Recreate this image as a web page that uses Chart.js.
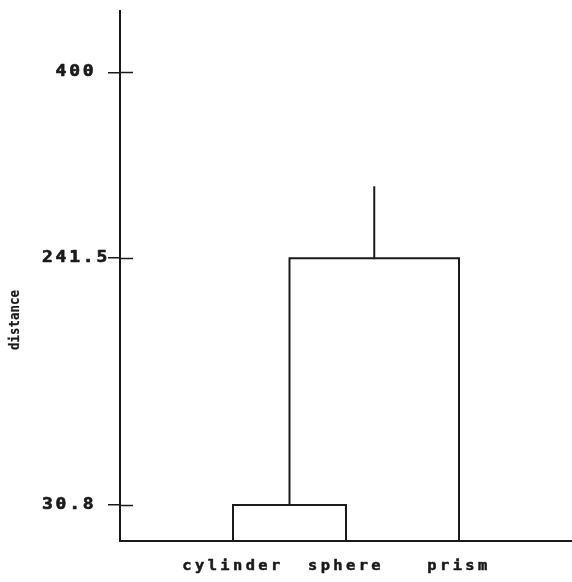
<!DOCTYPE html>
<html>
<head>
<meta charset="utf-8">
<script src="https://cdn.jsdelivr.net/npm/chart.js@4.4.1/dist/chart.umd.min.js"></script>
<style>
  html, body { margin: 0; padding: 0; background: #fff; }
  #wrap { width: 572px; height: 582px; position: relative; }
</style>
</head>
<body>
<div id="wrap"><canvas id="c"></canvas></div>
<script>
// ---- data ----
const categories = ['cylinder', 'sphere', 'prism'];   // leaves, left to right
const leafPositions = [1, 2, 3];                       // x index of each leaf
const mergeHeights = [30.8, 241.5];                    // join distances
const rootTop = 302;                                   // top of root stem
const tickValues = [30.8, 241.5, 400];
const tickLabels = ['30.8 ', '241.5', '400 '];
const axisTitle = 'distance';
const yMax = 452.5;
const xMin = 0, xMax = 4;

// ---- dendrogram segments built from the data ----
const c1 = (leafPositions[0] + leafPositions[1]) / 2;
const c2 = (c1 + leafPositions[2]) / 2;
const seg1 = [
  {x: leafPositions[0], y: 0}, {x: leafPositions[0], y: mergeHeights[0]},
  {x: leafPositions[1], y: mergeHeights[0]}, {x: leafPositions[1], y: 0}
];
const seg2 = [
  {x: c1, y: mergeHeights[0]}, {x: c1, y: mergeHeights[1]},
  {x: leafPositions[2], y: mergeHeights[1]}, {x: leafPositions[2], y: 0}
];
const seg3 = [
  {x: c2, y: mergeHeights[1]}, {x: c2, y: rootTop}
];

const INK = '#1a1a1a';
const mono = '"DejaVu Sans Mono", "Liberation Mono", monospace';

// plotter-like lettering: widen glyphs and space them out, keyed by font size
const spacingPlugin = {
  id: 'spacing',
  afterInit(chart) {
    const ctx = chart.ctx;
    const of = ctx.fillText, ost = ctx.strokeText, om = ctx.measureText;
    const cfg = () => {
      const m = /(\d+(?:\.\d+)?)px/.exec(ctx.font);
      const s = m ? parseFloat(m[1]) : 12;
      if (s === 15) return { sx: 1.2, sp: 2.3, lw: 0.6 };
      if (s === 14) return { sx: 1.1, sp: 3.1, lw: 0.5 };
      if (s === 13.5) return { sx: 0.92, sp: 0, lw: 0.2 };
      return { sx: 1, sp: 0, lw: 0 };
    };
    ctx.fillText = function(t, x, y) {
      const c = cfg();
      this.save();
      this.letterSpacing = c.sp + 'px';
      this.translate(x, y);
      this.scale(c.sx, 1);
      of.call(this, t, 0, 0);
      if (c.lw > 0) {
        this.strokeStyle = this.fillStyle;
        this.lineWidth = c.lw;
        this.lineJoin = 'round';
        ost.call(this, t, 0, 0);
      }
      this.restore();
    };
    ctx.measureText = function(t) {
      const c = cfg();
      const prev = this.letterSpacing;
      this.letterSpacing = c.sp + 'px';
      const m = om.call(this, t);
      this.letterSpacing = prev;
      return {
        width: m.width * c.sx,
        actualBoundingBoxAscent: m.actualBoundingBoxAscent,
        actualBoundingBoxDescent: m.actualBoundingBoxDescent,
        actualBoundingBoxLeft: m.actualBoundingBoxLeft * c.sx,
        actualBoundingBoxRight: m.actualBoundingBoxRight * c.sx
      };
    };
  }
};

const innerTicks = {
  id: 'innerTicks',
  afterDraw(chart) {
    const ctx = chart.ctx, ys = chart.scales.y, area = chart.chartArea;
    ctx.save();
    ctx.strokeStyle = INK;
    ctx.lineWidth = 1.5;
    ys.ticks.forEach(t => {
      const py = Math.round(ys.getPixelForValue(t.value)) + 0.5;
      ctx.beginPath();
      ctx.moveTo(area.left, py);
      ctx.lineTo(area.left + 13, py);
      ctx.stroke();
    });
    // rotated axis title
    ctx.translate(15, 320);
    ctx.rotate(-Math.PI / 2);
    ctx.fillStyle = INK;
    ctx.font = 'bold 13.5px ' + mono;
    ctx.textAlign = 'center';
    ctx.textBaseline = 'middle';
    ctx.fillText(axisTitle, 0, 0);
    ctx.restore();
  }
};

const lineDs = (data) => ({
  data, showLine: true, borderColor: INK, borderWidth: 2,
  pointRadius: 0, pointHoverRadius: 0, fill: false, tension: 0,
  borderCapStyle: 'square'
});

new Chart(document.getElementById('c'), {
  type: 'scatter',
  data: { datasets: [lineDs(seg1), lineDs(seg2), lineDs(seg3)] },
  options: {
    responsive: true,
    maintainAspectRatio: false,
    animation: false,
    layout: { padding: { top: 11, right: 0, left: 0, bottom: 0 } },
    plugins: { legend: { display: false }, tooltip: { enabled: false } },
    scales: {
      x: {
        type: 'linear', min: xMin, max: xMax,
        afterBuildTicks: (s) => { s.ticks = leafPositions.map(v => ({ value: v })); },
        afterFit: (s) => { s.height = 41; },
        grid: { display: false, drawTicks: false },
        border: { display: true, color: INK, width: 2 },
        ticks: {
          autoSkip: false, maxRotation: 0, padding: 17,
          color: INK,
          font: { family: mono, size: 14, weight: 'bold' },
          callback: (v) => categories[leafPositions.indexOf(v)]
        }
      },
      y: {
        type: 'linear', min: 0, max: yMax,
        afterBuildTicks: (s) => { s.ticks = tickValues.map(v => ({ value: v })); },
        afterFit: (s) => { s.width = 120; },
        grid: { drawOnChartArea: false, drawTicks: true, tickLength: 12, color: INK, lineWidth: 1.5 },
        border: { display: true, color: INK, width: 2 },
        ticks: {
          autoSkip: false, padding: -2, color: INK,
          font: { family: mono, size: 15, weight: 'bold' },
          callback: (v) => tickLabels[tickValues.indexOf(v)]
        }
      }
    }
  },
  plugins: [spacingPlugin, innerTicks]
});
</script>
</body>
</html>
